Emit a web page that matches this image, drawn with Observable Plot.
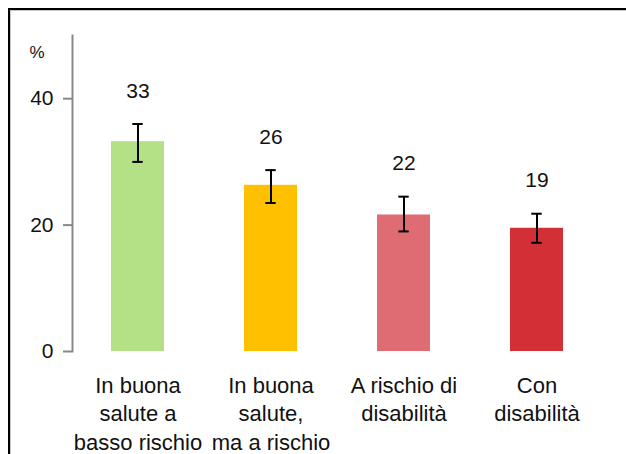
<!DOCTYPE html>
<html>
<head>
<meta charset="utf-8">
<script src="https://cdn.jsdelivr.net/npm/d3@7"></script>
<script src="https://cdn.jsdelivr.net/npm/@observablehq/plot@0.6"></script>
<style>
  html, body { margin: 0; padding: 0; background: #fff; }
  #wrap { position: relative; width: 626px; height: 454px; overflow: hidden; }
  #frame1 { position: absolute; left: 8px; top: 8px; right: -10px; bottom: -10px; border-top: 2px solid #000; border-left: 2px solid #000; }
  #frame2 { position: absolute; left: 10px; top: 10px; right: -10px; bottom: -10px; border-top: 1px solid #c8c8c8; border-left: 1px solid #c8c8c8; }
  #chart { position: absolute; left: 0; top: 0; }
</style>
</head>
<body>
<div id="wrap">
  <div id="frame1"></div>
  <div id="frame2"></div>
  <div id="chart"></div>
</div>
<script>
const categories = ["In buona\nsalute a\nbasso rischio", "In buona\nsalute,\nma a rischio", "A rischio di\ndisabilità", "Con\ndisabilità"];
const values = [33.2, 26.3, 21.6, 19.5];
const lows = [30.0, 23.5, 19.0, 17.2];
const highs = [36.0, 28.7, 24.5, 21.8];
const valueLabels = ["33", "26", "22", "19"];
const colors = ["#b4e086", "#ffc000", "#e06c73", "#d22f36"];
const yTicks = [0, 20, 40];

const data = categories.map((c, i) => ({cat: c, value: values[i], low: lows[i], high: highs[i], label: valueLabels[i], color: colors[i]}));

const font = "'Liberation Sans', Arial, sans-serif";

const chart = Plot.plot({
  width: 626,
  height: 454,
  marginLeft: 72,
  marginRight: 24,
  marginTop: 35,
  marginBottom: 103,
  style: {fontFamily: font, color: "#111", background: "transparent"},
  x: {domain: categories, paddingInner: 0.6, paddingOuter: 0.278, axis: null},
  y: {domain: [0, 50], axis: null},
  marks: [
    Plot.frame({anchor: "left", stroke: "#888", strokeWidth: 2}),
    Plot.axisY({ticks: yTicks, tickSize: 9, tickPadding: 10, stroke: "#888", strokeWidth: 2, fontSize: 21, fill: "#111", label: null}),
    Plot.barY(data, {x: "cat", y: "value", fill: "color"}),
    Plot.ruleX(data, {x: "cat", y1: "low", y2: "high", stroke: "#000", strokeWidth: 2}),
    Plot.tickY(data, {x: "cat", y: "low", stroke: "#000", strokeWidth: 2, insetLeft: 21.3, insetRight: 21.3}),
    Plot.tickY(data, {x: "cat", y: "high", stroke: "#000", strokeWidth: 2, insetLeft: 21.3, insetRight: 21.3}),
    Plot.text(data, {x: "cat", y: "high", text: "label", dy: -33, fontSize: 21, fill: "#111"}),
    Plot.text(data, {x: "cat", y: 0, text: "cat", lineAnchor: "top", dy: 21, lineHeight: 1.3, fontSize: 22, fill: "#111"}),
    Plot.text(["%"], {frameAnchor: "top-left", lineAnchor: "middle", dx: -43, dy: 17, fontSize: 17, fill: "#111"})
  ]
});
document.getElementById("chart").appendChild(chart);
</script>
</body>
</html>
